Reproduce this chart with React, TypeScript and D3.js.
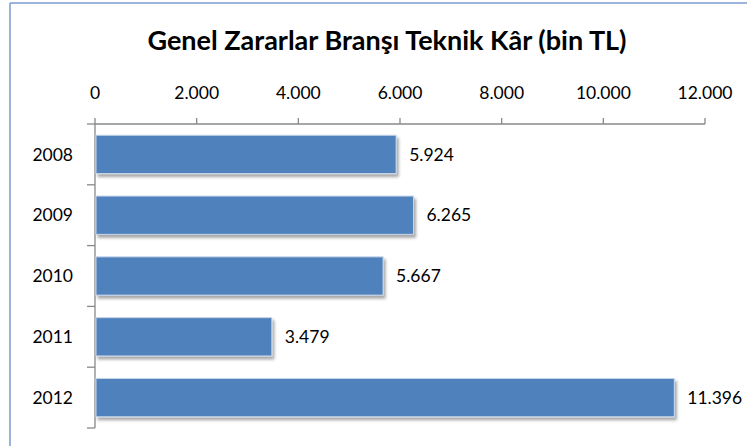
import { useMemo } from 'react';
import * as d3 from 'd3';

const years = ['2008', '2009', '2010', '2011', '2012'];
const values = [5924, 6265, 5667, 3479, 11396];
const xTickValues = [0, 2000, 4000, 6000, 8000, 10000, 12000];

const fmt = (v: number) => d3.format(',')(v).replace(/,/g, '.');

const App = () => {
  const width = 747;
  const height = 446;
  const margin = { left: 95, right: 42, top: 124, bottom: 18 };

  const xScale = useMemo(
    () => d3.scaleLinear().domain([0, 12000]).range([margin.left, width - margin.right]),
    []
  );
  const yScale = useMemo(
    () =>
      d3.scaleBand<string>()
        .domain(years)
        .range([margin.top, height - margin.bottom])
        .paddingInner(0.37)
        .paddingOuter(0.185),
    []
  );
  const bandEdges = useMemo(() => {
    const step = yScale.step();
    return d3.range(years.length + 1).map((i) => margin.top + i * step);
  }, [yScale]);

  const font = 'Lato, "Open Sans", sans-serif';
  const bottomY = bandEdges[bandEdges.length - 1];

  return (
    <svg width={width} height={height} style={{ position: 'absolute', left: 0, top: 0 }}>
      <defs>
        <filter id="shadow" x="-5%" y="-20%" width="115%" height="160%">
          <feDropShadow dx="2" dy="3" stdDeviation="1.6" floodColor="#000" floodOpacity="0.35" />
        </filter>
      </defs>
      <rect x={0} y={0} width={width} height={height} fill="#fff" />
      {/* chart frame */}
      <line x1={10} y1={3} x2={width} y2={3} stroke="#7b9bd0" strokeWidth={1.5} />
      <line x1={10} y1={3} x2={10} y2={height} stroke="#7b9bd0" strokeWidth={1.5} />

      <text
        x={387}
        y={50}
        textAnchor="middle"
        style={{ fontFamily: font, fontSize: '27px', fontWeight: 700 }}
        fill="#000"
      >
        Genel Zararlar Branşı Teknik Kâr (bin TL)
      </text>

      {/* X axis (top) */}
      <line x1={xScale(0)} y1={margin.top} x2={xScale(12000)} y2={margin.top} stroke="#888" strokeWidth={1.3} />
      {xTickValues.map((v) => (
        <g key={v} transform={`translate(${xScale(v)}, ${margin.top})`}>
          <line y1={0} y2={-6} stroke="#888" strokeWidth={1.3} />
          <text y={-25} textAnchor="middle" style={{ fontFamily: font, fontSize: '17.5px' }} fill="#000">
            {fmt(v)}
          </text>
        </g>
      ))}

      {/* Y axis */}
      <line x1={xScale(0)} y1={margin.top} x2={xScale(0)} y2={bottomY} stroke="#888" strokeWidth={1.3} />
      {bandEdges.map((y, i) => (
        <line key={i} x1={xScale(0) - 8} x2={xScale(0)} y1={y} y2={y} stroke="#888" strokeWidth={1.3} />
      ))}
      {years.map((yr) => (
        <text
          key={yr}
          x={73}
          y={(yScale(yr) ?? 0) + yScale.bandwidth() / 2}
          dy="0.35em"
          textAnchor="end"
          style={{ fontFamily: font, fontSize: '17.5px' }}
          fill="#000"
        >
          {yr}
        </text>
      ))}

      {/* Bars */}
      {years.map((yr, i) => (
        <rect
          key={yr}
          x={xScale(0) + 1}
          y={yScale(yr)}
          width={xScale(values[i]) - xScale(0) - 1}
          height={yScale.bandwidth()}
          fill="#4f81bd"
          stroke="#c7d6ea"
          strokeWidth={1}
          filter="url(#shadow)"
        />
      ))}

      {/* Value labels */}
      {years.map((yr, i) => (
        <text
          key={yr}
          x={xScale(values[i]) + 13}
          y={(yScale(yr) ?? 0) + yScale.bandwidth() / 2}
          dy="0.35em"
          style={{ fontFamily: font, fontSize: '17.5px' }}
          fill="#000"
        >
          {fmt(values[i])}
        </text>
      ))}
    </svg>
  );
};

export default App;
